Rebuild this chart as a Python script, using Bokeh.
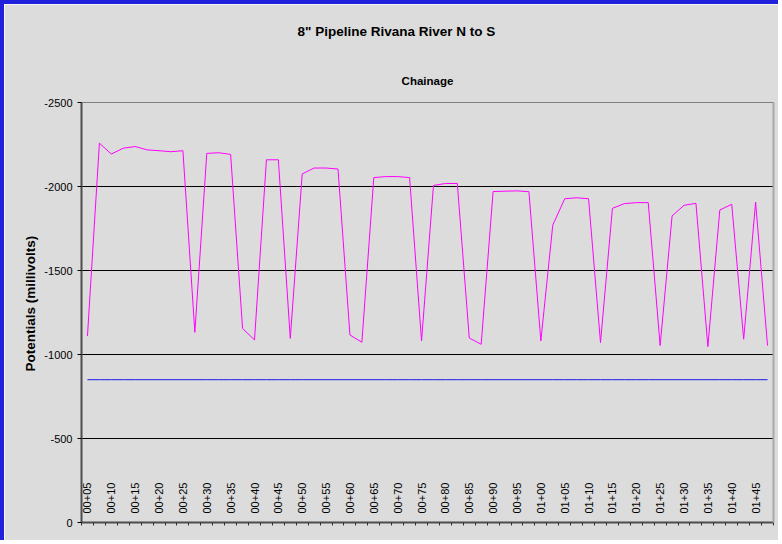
import math
from bokeh.plotting import figure
from bokeh.models import Range1d, FixedTicker, LinearAxis, Title, ColumnDataSource
from bokeh.core.properties import value
from bokeh.embed import file_html
from bokeh.resources import INLINE

# ---- data ----
chainage = [5, 7.5, 10, 12.5, 15, 17.5, 20, 22.5, 25, 27.5,
            30, 32.5, 35, 37.5, 40, 42.5, 45, 47.5, 50, 52.5,
            55, 57.5, 60, 62.5, 65, 67.5, 70, 72.5, 75, 77.5,
            80, 82.5, 85, 87.5, 90, 92.5, 95, 97.5, 100, 102.5,
            105, 107.5, 110, 112.5, 115, 117.5, 120, 122.5, 125, 127.5,
            130, 132.5, 135, 137.5, 140, 142.5, 145, 147.5]

potentials = [-1110, -2258, -2193, -2228, -2238, -2218, -2213, -2207, -2213, -1132,
              -2197, -2201, -2191, -1155, -1087, -2159, -2159, -1096, -2075, -2110,
              -2110, -2104, -1116, -1073, -2053, -2059, -2059, -2053, -1081, -2006,
              -2018, -2018, -1098, -1061, -1970, -1972, -1974, -1969, -1081, -1770,
              -1927, -1933, -1927, -1071, -1870, -1898, -1904, -1904, -1053, -1825,
              -1888, -1900, -1047, -1860, -1894, -1091, -1907, -1053]

criterion = [-850] * len(chainage)

x_tick_labels = ["00+05", "00+10", "00+15", "00+20", "00+25", "00+30", "00+35", "00+40",
                 "00+45", "00+50", "00+55", "00+60", "00+65", "00+70", "00+75", "00+80",
                 "00+85", "00+90", "00+95", "01+00", "01+05", "01+10", "01+15", "01+20",
                 "01+25", "01+30", "01+35", "01+40", "01+45"]

y_ticks = [0, -500, -1000, -1500, -2000, -2500]
y_tick_labels = ["0", "-500", "-1000", "-1500", "-2000", "-2500"]

# ---- styling ----
BG = "#dcdcdc"
FONT = "Liberation Sans"
step = 2.5
x_lo, x_hi = chainage[0] - step / 2, chainage[-1] + step / 2

p = figure(width=778, height=540, output_backend="svg", toolbar_location=None,
           x_range=Range1d(x_lo, x_hi), y_range=Range1d(0, -2500),
           min_border_left=77, min_border_right=9, min_border_top=97, min_border_bottom=22,
           background_fill_color=BG, border_fill_color=BG,
           styles={"border-top": "4px solid #2020dd", "border-left": "4px solid #2020dd"})

p.outline_line_color = "#808080"
p.outline_line_width = 1

# titles
p.title = None
p.add_layout(Title(text="Chainage", text_font=FONT, text_font_size="11.5px",
                   text_font_style="bold", align="center", standoff=32,
                   text_color="black"), "above")
p.add_layout(Title(text='8" Pipeline Rivana River N to S', text_font=FONT,
                   text_font_size="13.5px", text_font_style="bold", align="left",
                   offset=216, standoff=35, text_color="black"), "above")

# x axis
xa = p.xaxis[0]
n = len(chainage)
xa.ticker = FixedTicker(ticks=[], minor_ticks=[x_lo + step * k for k in range(n + 1)])
xa.axis_line_color = "#4d4d4d"
xa.axis_line_width = 2
xa.minor_tick_line_color = "#333333"
xa.minor_tick_out = 3
xa.minor_tick_in = 0
xa.major_tick_out = 0
xa.major_tick_in = 0
p.xgrid.visible = False

# y axis
ya = p.yaxis[0]
ya.ticker = FixedTicker(ticks=y_ticks)
ya.major_label_overrides = {t: s for t, s in zip(y_ticks, y_tick_labels)}
ya.axis_line_color = "#4d4d4d"
ya.axis_line_width = 2
ya.major_tick_line_color = "black"
ya.major_tick_out = 4
ya.major_tick_in = 0
ya.minor_tick_out = 0
ya.minor_tick_in = 0
ya.major_label_text_font = FONT
ya.major_label_text_font_size = "11px"
ya.major_label_text_color = "black"
ya.major_label_standoff = 5

# y axis title as a side title, placed a little above the plot's vertical centre
p.add_layout(Title(text="Potentials (millivolts)", text_font=FONT, text_font_size="13.5px",
                   text_font_style="bold", align="left", offset=151, standoff=8,
                   text_color="black"), "left")

p.ygrid.ticker = FixedTicker(ticks=[t for t in y_ticks if t not in (0, -2500)])
p.ygrid.grid_line_color = "black"
p.ygrid.grid_line_width = 1

# right border as an empty axis
ra = LinearAxis(ticker=FixedTicker(ticks=[]), axis_line_color="#a8a8a8", axis_line_width=2,
                major_tick_out=0, major_tick_in=0, minor_tick_out=0, minor_tick_in=0,
                major_label_text_font_size="0px")
p.add_layout(ra, "right")

# series
p.line(chainage, criterion, line_color="#1a1ae6", line_width=1)
p.line(chainage, potentials, line_color="#ff00ff", line_width=1)

# category labels drawn inside the plot area just above the axis
label_x = [int(s[:2]) * 100 + int(s[3:]) for s in x_tick_labels]
lab_src = ColumnDataSource(dict(x=label_x, y=[0] * len(label_x), t=x_tick_labels))
p.text(x="x", y="y", text="t", source=lab_src, angle=math.pi / 2,
       text_align="left", text_baseline="middle", y_offset=-9,
       text_font=value(FONT), text_font_size="11px", text_color="black")

open("out.html", "w").write(file_html(p, INLINE))
